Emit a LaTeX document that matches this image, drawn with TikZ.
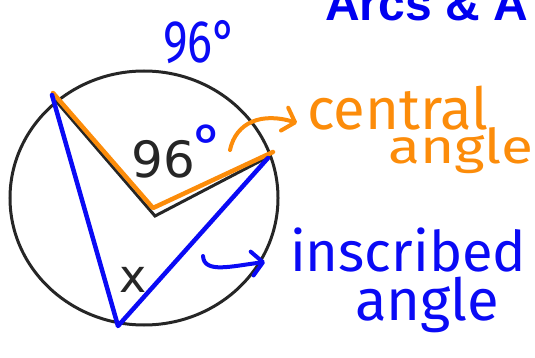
\documentclass[tikz,border=0pt]{standalone}
\usepackage{fontspec}
\usepackage{tikz}
\usetikzlibrary{arrows.meta,positioning}
\setmainfont{DejaVu Sans}
\newfontfamily\handfont{Fira Sans}
\newfontfamily\titlefont{Liberation Sans}
\definecolor{penblue}{RGB}{10,10,245}
\definecolor{penorange}{RGB}{252,140,10}
\definecolor{titleblue}{RGB}{0,0,240}

\begin{document}
\begin{tikzpicture}[
x=1pt, y=-1pt,
hand/.style={inner sep=0pt, anchor=base west, font=\handfont\fontsize{58}{58}\selectfont},
orangetext/.style={hand, text=penorange},
bluetext/.style={hand, text=penblue},
printed/.style={inner sep=0pt, anchor=base west, font=\fontsize{50}{50}\selectfont, text=black!85},
title/.style={inner sep=0pt, anchor=base west, font=\titlefont\bfseries\fontsize{48}{48}\selectfont, text=titleblue},
ring/.style={line width=3pt, draw=black!85},
printedline/.style={line width=3pt, draw=black!85, line join=miter},
orangeline/.style={line width=4.5pt, draw=penorange, line cap=round, line join=round},
blueline/.style={line width=4.5pt, draw=penblue, line cap=round, line join=round},
arr/.style={line width=4pt, line cap=round, -{Straight Barb[length=11pt,width=24pt,round]}}
]
\useasboundingbox (0,0) rectangle (535,358);
\draw[ring] (144,198) ellipse [x radius=134, y radius=127];

\coordinate (pleft) at (56,101);
\coordinate (pright) at (268,157);
\coordinate (pcentre) at (155,216);
\draw[printedline] (pleft) -- (pcentre) -- (pright);

\coordinate (oleft) at (53,93);
\coordinate (ocentre) at (153,208);
\coordinate (oright) at (273,152);
\draw[orangeline] (oleft) -- (ocentre) -- (oright);

\coordinate (bleft) at (52,95);
\coordinate (bbottom) at (118,326);
\coordinate (bright) at (268,158);
\draw[blueline] (bleft) -- (bbottom) -- (bright);

\node[printed] (ninetysix) at (131,178) {96};
\node[printed, font=\fontsize{46}{46}\selectfont] (xmark) at (119,292) {x};
\node[bluetext] (degmark) at (193,166) {°};
\node[bluetext, font=\handfont\fontsize{60}{60}\selectfont] (arcdeg) at (163,63) {\scalebox{0.78}[1]{96°}};
\node[title] (heading) at (325,21) {Arcs \& A};

\node[orangetext] (central) at (307,130) {central};
\node[orangetext, font=\handfont\fontsize{48}{48}\selectfont] (cangle) at (388,164) {\scalebox{1.22}[1]{angle}};
\node[bluetext, font=\handfont\fontsize{56}{56}\selectfont] (inscribed) at (290,271) {inscribed};
\node[bluetext] (iangle) at (355,320) {angle};

\coordinate (ctail) at (230,150);
\draw[arr, penorange] (ctail) .. controls (236,122) and (262,112) .. ([xshift=-10pt,yshift=7pt]central.base west);
\coordinate (itail) at (203,256);
\draw[arr, penblue] (itail) .. controls (204,274) and (232,266) .. ([xshift=-25pt,yshift=9pt]inscribed.base west);
\end{tikzpicture}
\end{document}
